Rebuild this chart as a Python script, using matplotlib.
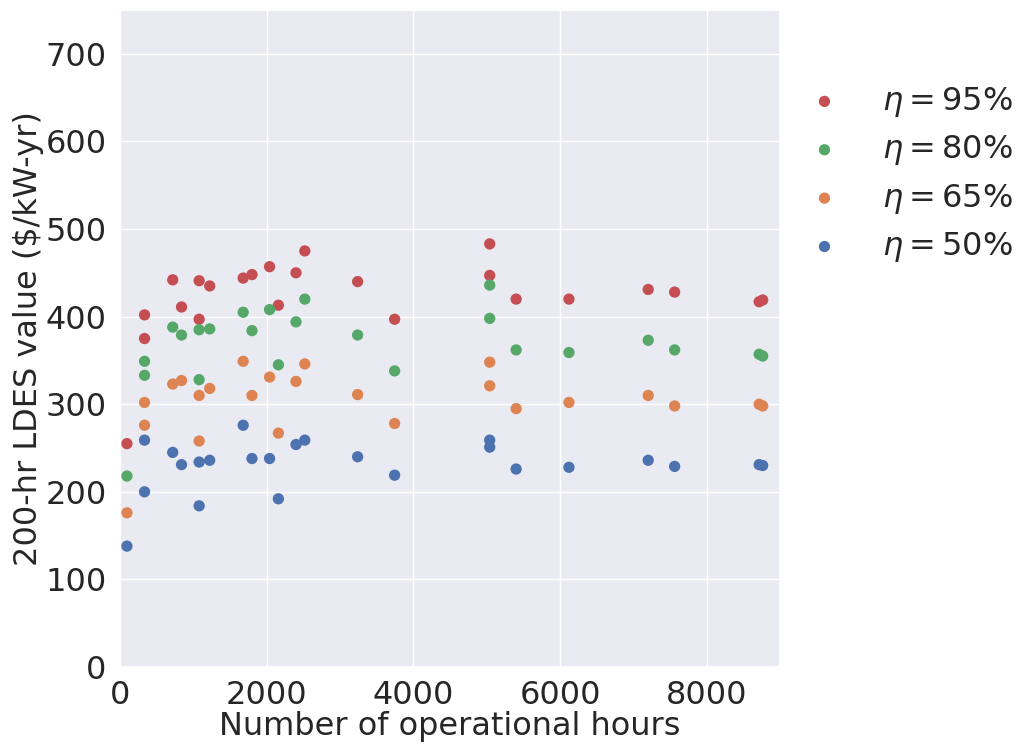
import numpy as np
import matplotlib
matplotlib.use("Agg")
import matplotlib.pyplot as plt
import seaborn as sns

# operational hours for each run and the 200-hr LDES value per round-trip efficiency
hours = [96, 336, 336, 720, 840, 1080, 1080, 1224, 1680, 1800, 2040, 2160,
         2400, 2520, 3240, 3744, 5040, 5040, 5400, 6120, 7200, 7560, 8712, 8760]
value_95 = [255, 402, 375, 442, 411, 441, 397, 435, 444, 448, 457, 413,
            450, 475, 440, 397, 483, 447, 420, 420, 431, 428, 417, 419]
value_80 = [218, 349, 333, 388, 379, 385, 328, 386, 405, 384, 408, 345,
            394, 420, 379, 338, 436, 398, 362, 359, 373, 362, 357, 355]
value_65 = [176, 302, 276, 323, 327, 310, 258, 318, 349, 310, 331, 267,
            326, 346, 311, 278, 348, 321, 295, 302, 310, 298, 300, 298]
value_50 = [138, 259, 200, 245, 231, 234, 184, 236, 276, 238, 238, 192,
            254, 259, 240, 219, 259, 251, 226, 228, 236, 229, 231, 230]

labels = [r"$\eta = 95\%$", r"$\eta = 80\%$", r"$\eta = 65\%$", r"$\eta = 50\%$"]
series = [value_95, value_80, value_65, value_50]

sns.set_theme(style="darkgrid")
pal = sns.color_palette("deep")
colors = [pal[3], pal[2], pal[1], pal[0]]

fontsize = 23

fig = plt.figure(figsize=(10.16, 7.44), dpi=100)
ax = fig.add_axes([0.118, 0.1035, 0.650, 0.8830])

for vals, lab, c in zip(series, labels, colors):
    ax.scatter(hours, vals, s=66, color=c, label=lab, edgecolor="none")

ax.set_xlim(0, 9000)
ax.set_ylim(0, 750)
ax.set_xticks([0, 2000, 4000, 6000, 8000])
ax.set_yticks(np.arange(0, 800, 100))
ax.tick_params(labelsize=fontsize)
ax.set_xlabel("Number of operational hours", fontsize=fontsize, labelpad=0)
ax.set_ylabel("200-hr LDES value (\\$/kW-yr)", fontsize=fontsize, labelpad=1)

ax.legend(loc="upper left", bbox_to_anchor=(0.975, 0.93), frameon=False,
          fontsize=fontsize, handlelength=2.0, handletextpad=0.8,
          labelspacing=0.45)

plt.savefig("out.png", dpi=100)
